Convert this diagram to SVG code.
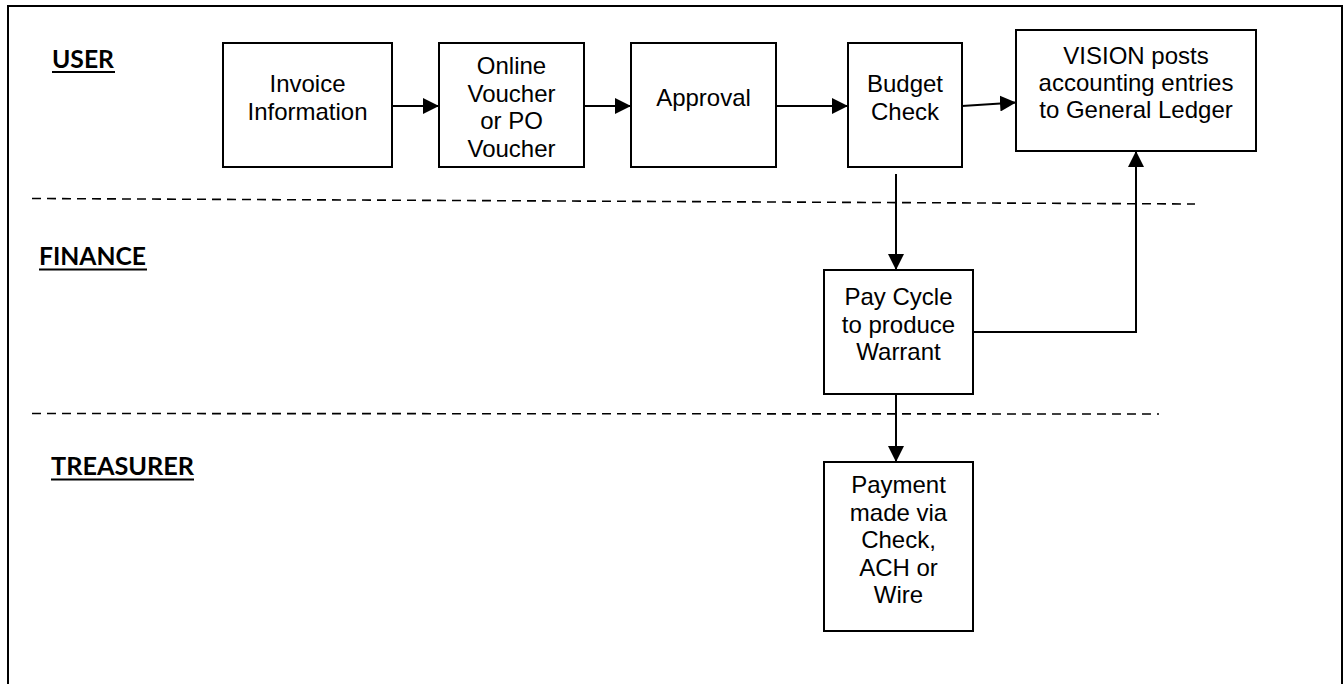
<svg xmlns="http://www.w3.org/2000/svg" width="1344" height="684" viewBox="0 0 1344 684">
  <style>
    .frame { fill: none; stroke: #000; stroke-width: 2; }
    .box { fill: #fff; stroke: #000; stroke-width: 2; }
    .lbl { font-family: "Liberation Sans", Arial, sans-serif; font-size: 24px; fill: #000; text-anchor: middle; }
    .lane { font-family: Lato, "Open Sans", sans-serif; font-weight: bold; font-size: 24px; fill: #000; }
    .uline { stroke: #000; stroke-width: 2; }
    .divider { stroke: #000; stroke-width: 1.6; stroke-dasharray: 9 6; fill: none; }
    .conn { fill: none; stroke: #000; stroke-width: 2; }
  </style>
  <defs>
    <marker id="arrow" markerUnits="userSpaceOnUse" markerWidth="16" markerHeight="16" refX="16" refY="8" orient="auto">
      <path d="M0,0 L16,8 L0,16 Z" fill="#000"/>
    </marker>
  </defs>

  <rect width="1344" height="684" fill="#fff"/>

  <!-- page frame (open at the bottom) -->
  <path class="frame" d="M8,684 L8,6 L1342,6 L1342,684"/>

  <!-- swimlane separators -->
  <g id="lanes">
    <line class="divider" x1="32" y1="198.5" x2="1195" y2="204"/>
    <line class="divider" x1="32" y1="413.5" x2="1159" y2="414"/>
  </g>

  <!-- swimlane titles -->
  <g id="lane-user">
    <text class="lane" x="52" y="68" textLength="62" lengthAdjust="spacingAndGlyphs">USER</text>
    <line class="uline" x1="52" y1="72" x2="115" y2="72"/>
  </g>
  <g id="lane-finance">
    <text class="lane" x="39" y="265" textLength="107" lengthAdjust="spacingAndGlyphs">FINANCE</text>
    <line class="uline" x1="39" y1="269.5" x2="147" y2="269.5"/>
  </g>
  <g id="lane-treasurer">
    <text class="lane" x="51" y="475" textLength="143" lengthAdjust="spacingAndGlyphs">TREASURER</text>
    <line class="uline" x1="51" y1="479.5" x2="194" y2="479.5"/>
  </g>

  <!-- connectors -->
  <g id="connectors">
    <line class="conn" x1="392" y1="106" x2="439" y2="106" marker-end="url(#arrow)"/>
    <line class="conn" x1="584" y1="106" x2="631" y2="106" marker-end="url(#arrow)"/>
    <line class="conn" x1="776" y1="106" x2="848" y2="106" marker-end="url(#arrow)"/>
    <line class="conn" x1="962" y1="106" x2="1016" y2="102.5" marker-end="url(#arrow)"/>
    <line class="conn" x1="896" y1="174" x2="896" y2="270" marker-end="url(#arrow)"/>
    <polyline class="conn" points="973,332 1136,332 1136,151" marker-end="url(#arrow)"/>
    <line class="conn" x1="896" y1="392" x2="896" y2="462" marker-end="url(#arrow)"/>
  </g>

  <!-- process steps -->
  <g id="invoice-information">
    <rect class="box" x="223" y="43" width="169" height="124"/>
    <text class="lbl" x="307.5" y="92">Invoice</text>
    <text class="lbl" x="307.5" y="119.5">Information</text>
  </g>

  <g id="online-voucher">
    <rect class="box" x="439" y="43" width="145" height="124"/>
    <text class="lbl" x="511.5" y="74">Online</text>
    <text class="lbl" x="511.5" y="101.6">Voucher</text>
    <text class="lbl" x="511.5" y="129.2">or PO</text>
    <text class="lbl" x="511.5" y="156.8">Voucher</text>
  </g>

  <g id="approval">
    <rect class="box" x="631" y="43" width="145" height="124"/>
    <text class="lbl" x="703.5" y="106">Approval</text>
  </g>

  <g id="budget-check">
    <rect class="box" x="848" y="43" width="114" height="124"/>
    <text class="lbl" x="905" y="92">Budget</text>
    <text class="lbl" x="905" y="119.5">Check</text>
  </g>

  <g id="general-ledger">
    <rect class="box" x="1016" y="30" width="240" height="121"/>
    <text class="lbl" x="1136" y="64">VISION posts</text>
    <text class="lbl" x="1136" y="91">accounting entries</text>
    <text class="lbl" x="1136" y="118">to General Ledger</text>
  </g>

  <g id="pay-cycle">
    <rect class="box" x="824" y="270" width="149" height="124"/>
    <text class="lbl" x="898.5" y="305">Pay Cycle</text>
    <text class="lbl" x="898.5" y="332.5">to produce</text>
    <text class="lbl" x="898.5" y="360">Warrant</text>
  </g>

  <g id="payment">
    <rect class="box" x="824" y="462" width="149" height="169"/>
    <text class="lbl" x="898.5" y="493">Payment</text>
    <text class="lbl" x="898.5" y="520.5">made via</text>
    <text class="lbl" x="898.5" y="548">Check,</text>
    <text class="lbl" x="898.5" y="575.5">ACH or</text>
    <text class="lbl" x="898.5" y="603">Wire</text>
  </g>
</svg>
